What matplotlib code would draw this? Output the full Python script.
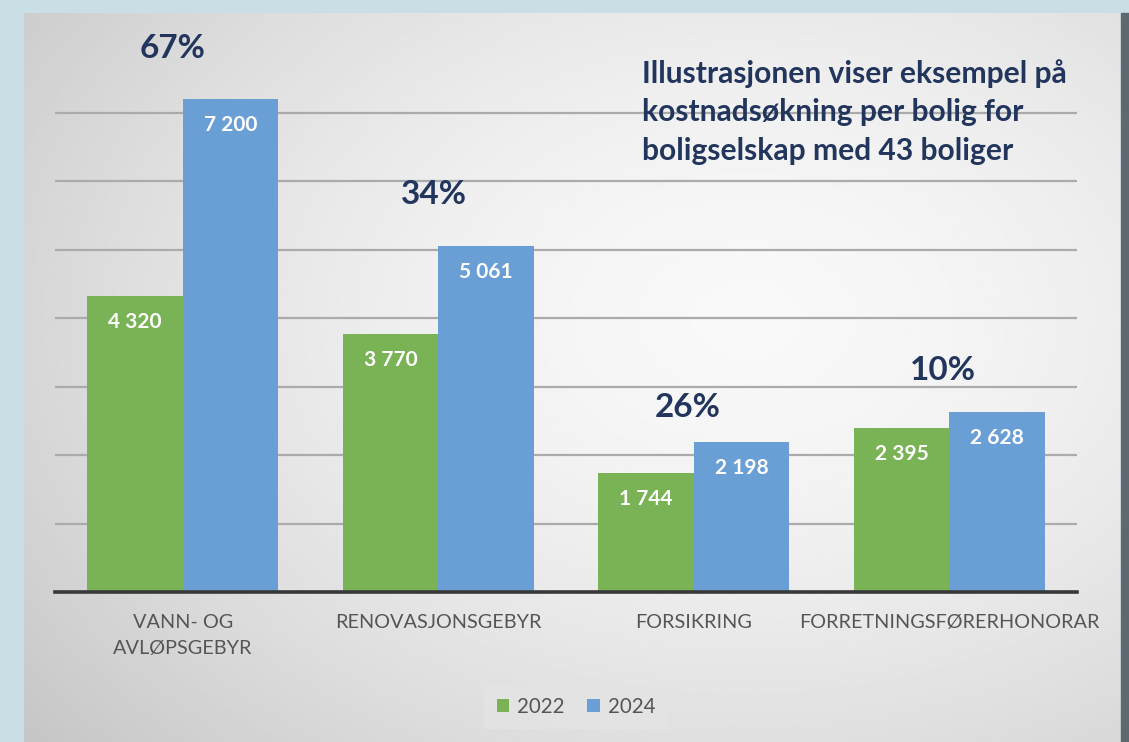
import numpy as np
import matplotlib
matplotlib.use("Agg")
import matplotlib.pyplot as plt
from matplotlib.patches import Rectangle

# ---- data ----
categories = ["VANN- OG\nAVLØPSGEBYR", "RENOVASJONSGEBYR", "FORSIKRING", "FORRETNINGSFØRERHONORAR"]
series_names = ["2022", "2024"]
values_2022 = [4320, 3770, 1744, 2395]
values_2024 = [7200, 5061, 2198, 2628]
title_lines = ["Illustrasjonen viser eksempel på",
               "kostnadsøkning per bolig for",
               "boligselskap med 43 boliger"]

# ---- style ----
W, H = 1129, 742
GREEN = "#79b356"
BLUE = "#6a9fd6"
NAVY = "#22355c"
GREY_TXT = "#555555"
FONT = "Lato"
plt.rcParams["font.family"] = [FONT, "DejaVu Sans"]

fig = plt.figure(figsize=(W / 100, H / 100), dpi=100)
fig.patch.set_facecolor("#c9dfe5")

def fx(px):
    return px / W

def fy(py):
    return 1 - py / H

# panel with radial gradient
panel_l, panel_t, panel_r = 24, 13, 1121
bg = fig.add_axes([fx(panel_l), 0, fx(panel_r - panel_l), fy(panel_t)], zorder=0)
gy, gx = np.mgrid[0:1:300j, 0:1:400j]
d = np.sqrt(((gx - 0.66) / 0.8) ** 2 + ((gy - 0.42) / 0.85) ** 2)
shade = 0.975 - 0.18 * np.clip(d, 0, 1.2) ** 1.6
bg.imshow(shade, cmap="gray", vmin=0, vmax=1, aspect="auto",
          extent=[0, 1, 0, 1], origin="upper", interpolation="bilinear")
bg.set_axis_off()
fig.add_artist(Rectangle((fx(panel_r), 0), fx(W - panel_r), fy(panel_t),
                         transform=fig.transFigure, color="#5b6a70", zorder=1))

# main axes
ax_l, ax_r, ax_base, px_per_k = 55, 1077, 592, 68.43
ymax = 8000
ax = fig.add_axes([fx(ax_l), fy(ax_base), fx(ax_r - ax_l), (ymax / 1000 * px_per_k) / H], zorder=2)
ax.set_facecolor("none")

x = np.arange(len(categories))
bw = 0.374
b1 = ax.bar(x - bw / 2, values_2022, bw, color=GREEN, label=series_names[0], zorder=3)
b2 = ax.bar(x + bw / 2, values_2024, bw, color=BLUE, label=series_names[1], zorder=3)

ax.set_xlim(-0.5, len(categories) - 0.5)
ax.set_ylim(0, ymax)
ax.set_yticks(np.arange(0, ymax, 1000))
ax.yaxis.grid(True, color="#ababab", linewidth=1.6, zorder=1)
ax.set_axisbelow(True)
ax.tick_params(axis="y", left=False, labelleft=False)
ax.tick_params(axis="x", bottom=False, pad=12, labelsize=14.3, labelcolor=GREY_TXT)
ax.set_xticks(x)
ax.set_xticklabels(categories, linespacing=1.65)
for s in ["top", "right", "left"]:
    ax.spines[s].set_visible(False)
ax.spines["bottom"].set_color("#383838")
ax.spines["bottom"].set_linewidth(2.6)
ax.spines["bottom"].set_zorder(4)

def fmt(v):
    return f"{v:,}".replace(",", " ")

for bars in (b1, b2):
    for r in bars:
        ax.annotate(fmt(int(r.get_height())),
                    (r.get_x() + r.get_width() / 2, r.get_height()),
                    xytext=(0, -26), textcoords="offset pixels",
                    ha="center", va="center", color="white",
                    fontsize=15, fontweight="bold", zorder=5)

# percentage increase labels
pct_offsets_px = [51, 51, 34, 42]
pct_dx_px = [-10, -4, -6, -6]
for i, (a, b) in enumerate(zip(values_2022, values_2024)):
    pct = round((b / a - 1) * 100)
    ax.annotate(f"{pct}%", (x[i], max(a, b)),
                xytext=(pct_dx_px[i], pct_offsets_px[i]), textcoords="offset pixels",
                ha="center", va="center", color=NAVY,
                fontsize=24, fontweight="bold", zorder=5)

# title text block
for k, line in enumerate(title_lines):
    fig.text(fx(642), fy(83 + 38.5 * k), line, ha="left", va="baseline",
             color=NAVY, fontsize=21.6, fontweight="bold", zorder=5)

# legend
leg = ax.legend(loc="center", bbox_to_anchor=(fx(576), fy(707)),
                bbox_transform=fig.transFigure, ncol=2, frameon=True,
                fontsize=14.8, handlelength=0.6, handleheight=0.6,
                handletextpad=0.4, columnspacing=1.1, borderpad=0.6,
                fancybox=False)
leg.get_frame().set_facecolor("#e4e4e4")
leg.get_frame().set_edgecolor("none")
leg.get_frame().set_alpha(0.8)
for t in leg.get_texts():
    t.set_color(GREY_TXT)

fig.savefig("out.png", dpi=100)
